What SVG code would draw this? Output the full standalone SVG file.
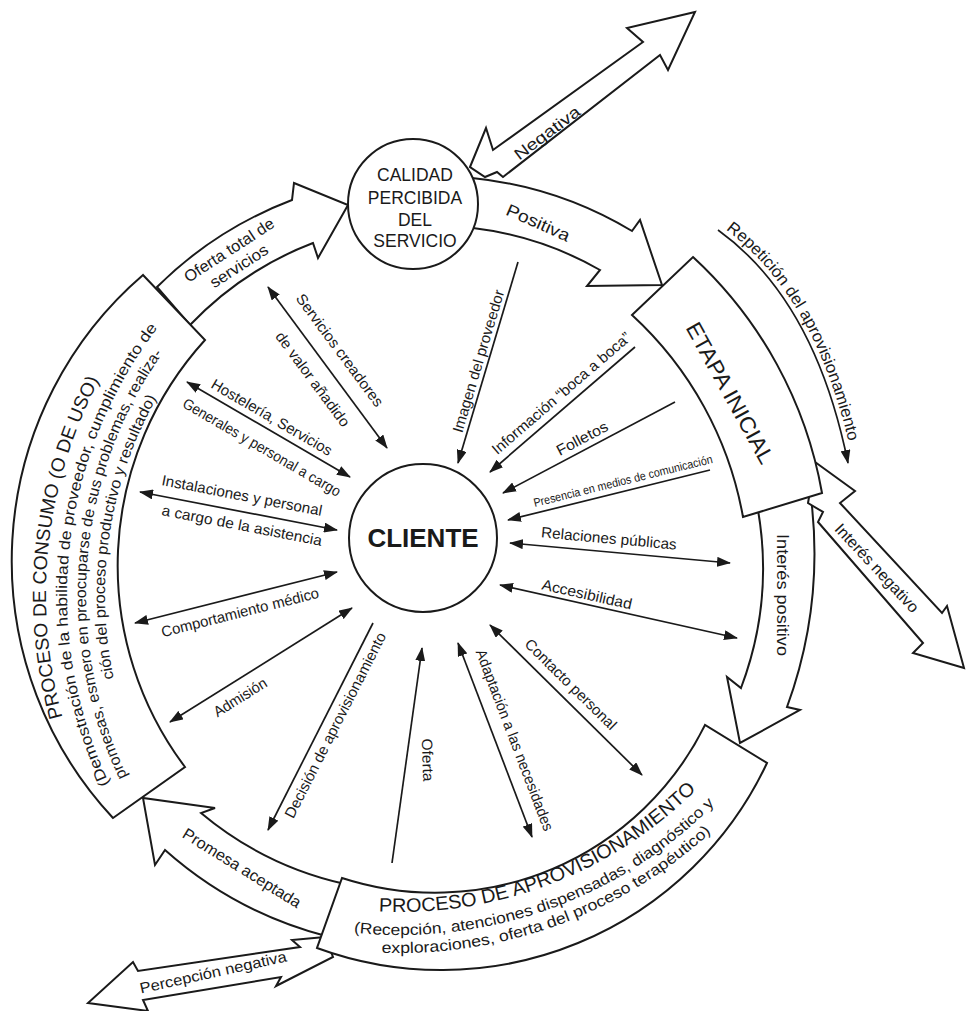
<svg xmlns="http://www.w3.org/2000/svg" width="966" height="1011" viewBox="0 0 966 1011">
<defs>
<style>
.blk{fill:#fff;stroke:#1a1a1a;stroke-width:2;stroke-linejoin:miter}
.sp{stroke:#1a1a1a;stroke-width:1.7;fill:none}
text{font-family:"Liberation Sans",Arial,Helvetica,sans-serif;fill:#1a1a1a}
.c{text-anchor:middle;dominant-baseline:central}
.f12{font-size:12px}
.f15{font-size:15px}
.f16{font-size:16px}
.f17{font-size:17px}
</style>
<marker id="ah" viewBox="0 0 14 10" refX="13" refY="5" markerWidth="14" markerHeight="10" markerUnits="userSpaceOnUse" orient="auto-start-reverse"><path d="M0,0 L14,5 L0,10 Z" fill="#1a1a1a"/></marker>
<path id="pc1" d="M107.6,825 A460,460 0 0 1 164.2,287.2"/>
<path id="pc2" d="M125.8,814.5 A439,439 0 0 1 179.8,301.3"/>
<path id="pc3" d="M142.3,805 A420,420 0 0 1 193.9,314.0"/>
<path id="pc4" d="M158.7,795.5 A401,401 0 0 1 208,326.7"/>
<path id="pa1" d="M327.1,905.6 A420,420 0 0 0 739.8,738.9"/>
<path id="pa2" d="M323.1,928.3 A443,443 0 0 0 758.4,752.4"/>
<path id="pa3" d="M320,946 A461,461 0 0 0 772.9,763"/>
<path id="prep" d="M721,226 Q819,296 853,462"/>
</defs>
<rect width="966" height="1011" fill="#fff"/>

<g id="connectors">
  <!-- big ring arrows -->
  <path class="blk" d="M470,167 L486,128 L493,150 L643,42 L627,28 L695,12 L668,70 L660,55 L503,177 L497,172 L485,177 Z"/>
  <path class="blk" d="M472,178 A386,386 0 0 1 632,231 L640,220 L662,285 L587,286 L600,270 A336,336 0 0 0 473,228 Z"/>
  <path class="blk" d="M157,287 A386,386 0 0 1 292,200 L294,183 L348,205 L318,258 L313,243 A336,336 0 0 0 190,325 Z"/>
  <path class="blk" d="M758,510 A340,340 0 0 1 741,688 L727,677 L740,743 L800,710 L787,707 A450,450 0 0 0 810,490 Z"/>
  <path class="blk" d="M815,462 L855,491 L840,503 L942,613 L947,606 L964,668 L913,653 L923,643 L818,522 L823,512 L808,503 Z"/>
  <path class="blk" d="M345,884 A338,338 0 0 1 201,813 L215,808 L143,798 L155,865 L165,850 A390,390 0 0 0 326,936 Z"/>
  <path class="blk" d="M325,937 L292,940 L300,947 L138,971 L133,962 L88,1003 L148,1011 L143,1000 L281,977 L276,986 L333,957 Z"/>
  <path class="sp" stroke-width="2" d="M718,230 Q815,300 848,463" marker-end="url(#ah)"/>

  <!-- big arrow labels -->
  <text class="c f16" transform="translate(547,133) rotate(-37)" textLength="78" lengthAdjust="spacingAndGlyphs">Negativa</text>
  <text class="c f17" transform="translate(538,223) rotate(24)" textLength="68" lengthAdjust="spacingAndGlyphs">Positiva</text>
  <text class="c f16" transform="translate(229,250) rotate(-33)" textLength="104" lengthAdjust="spacingAndGlyphs">Oferta total de</text>
  <text class="c f16" transform="translate(239,266) rotate(-33)" textLength="66" lengthAdjust="spacingAndGlyphs">servicios</text>
  <text class="c f17" transform="translate(782,595) rotate(90)" textLength="122" lengthAdjust="spacingAndGlyphs">Interés positivo</text>
  <text class="c f16" transform="translate(877,568) rotate(47)" textLength="115" lengthAdjust="spacingAndGlyphs">Interés negativo</text>
  <text class="c f16" transform="translate(242,868) rotate(31.8)" textLength="136" lengthAdjust="spacingAndGlyphs">Promesa aceptada</text>
  <text class="c f15" transform="translate(213,972) rotate(-12.5)" textLength="150" lengthAdjust="spacingAndGlyphs">Percepción negativa</text>
  <text font-size="16.5"><textPath href="#prep" startOffset="6" textLength="250" lengthAdjust="spacingAndGlyphs">Repetición del aprovisionamiento</textPath></text>

  <!-- spokes -->
  <line class="sp" x1="268" y1="287" x2="387" y2="448" marker-start="url(#ah)" marker-end="url(#ah)"/>
  <line class="sp" x1="518" y1="262" x2="458" y2="463" marker-end="url(#ah)"/>
  <line class="sp" x1="635" y1="347" x2="490" y2="472" marker-end="url(#ah)"/>
  <line class="sp" x1="675" y1="402" x2="503" y2="493" marker-end="url(#ah)"/>
  <line class="sp" x1="710" y1="470" x2="508" y2="520" marker-end="url(#ah)"/>
  <line class="sp" x1="510" y1="543" x2="730" y2="563" marker-start="url(#ah)" marker-end="url(#ah)"/>
  <line class="sp" x1="500" y1="585" x2="737" y2="638" marker-start="url(#ah)" marker-end="url(#ah)"/>
  <line class="sp" x1="490" y1="625" x2="642" y2="775" marker-start="url(#ah)" marker-end="url(#ah)"/>
  <line class="sp" x1="458" y1="643" x2="532" y2="837" marker-start="url(#ah)" marker-end="url(#ah)"/>
  <line class="sp" x1="392" y1="863" x2="422" y2="648" marker-end="url(#ah)"/>
  <line class="sp" x1="373" y1="623" x2="268" y2="830" marker-end="url(#ah)"/>
  <line class="sp" x1="170" y1="722" x2="352" y2="608" marker-start="url(#ah)" marker-end="url(#ah)"/>
  <line class="sp" x1="135" y1="623" x2="337" y2="572" marker-start="url(#ah)" marker-end="url(#ah)"/>
  <line class="sp" x1="140" y1="492" x2="337" y2="530" marker-start="url(#ah)" marker-end="url(#ah)"/>
  <line class="sp" x1="187" y1="382" x2="350" y2="477" marker-start="url(#ah)" marker-end="url(#ah)"/>

  <!-- spoke labels -->
  <text class="c f15" transform="translate(340,350) rotate(53.5)" textLength="136" lengthAdjust="spacingAndGlyphs">Servicios creadores</text>
  <text class="c f15" transform="translate(313,379) rotate(53.5)" textLength="114" lengthAdjust="spacingAndGlyphs">de valor añadido</text>
  <text class="c f15" transform="translate(478,361) rotate(-73.4)" textLength="148" lengthAdjust="spacingAndGlyphs">Imagen del proveedor</text>
  <text class="c f15" transform="translate(561,393) rotate(-40.8)" textLength="178" lengthAdjust="spacingAndGlyphs">Información “boca a boca”</text>
  <text class="c f15" transform="translate(582,438) rotate(-27.9)" textLength="56" lengthAdjust="spacingAndGlyphs">Folletos</text>
  <text class="c f12" transform="translate(623,481) rotate(-13.9)" textLength="184" lengthAdjust="spacingAndGlyphs">Presencia en medios de comunicación</text>
  <text class="c f15" transform="translate(609,538) rotate(5.2)" textLength="136" lengthAdjust="spacingAndGlyphs">Relaciones públicas</text>
  <text class="c f15" transform="translate(587,594) rotate(12.6)" textLength="92" lengthAdjust="spacingAndGlyphs">Accesibilidad</text>
  <text class="c f15" transform="translate(571,684) rotate(44.6)" textLength="122" lengthAdjust="spacingAndGlyphs">Contacto personal</text>
  <text class="c f15" transform="translate(515,740) rotate(69.1)" textLength="193" lengthAdjust="spacingAndGlyphs">Adaptación a las necesidades</text>
  <text class="c f15" transform="translate(428,760) rotate(88)" textLength="43" lengthAdjust="spacingAndGlyphs">Oferta</text>
  <text class="c f15" transform="translate(335,725) rotate(-63.1)" textLength="206" lengthAdjust="spacingAndGlyphs">Decisión de aprovisionamiento</text>
  <text class="c f15" transform="translate(240,697) rotate(-32)" textLength="60" lengthAdjust="spacingAndGlyphs">Admisión</text>
  <text class="c f15" transform="translate(240,612) rotate(-14.2)" textLength="162" lengthAdjust="spacingAndGlyphs">Comportamiento médico</text>
  <text class="c f15" transform="translate(242,495) rotate(10.9)" textLength="163" lengthAdjust="spacingAndGlyphs">Instalaciones y personal</text>
  <text class="c f15" transform="translate(242,525) rotate(10.9)" textLength="163" lengthAdjust="spacingAndGlyphs">a cargo de la asistencia</text>
  <text class="c f15" transform="translate(272,417) rotate(30.2)" textLength="137" lengthAdjust="spacingAndGlyphs">Hostelería, Servicios</text>
  <text class="c f15" transform="translate(262,447) rotate(30.2)" textLength="180" lengthAdjust="spacingAndGlyphs">Generales y personal a cargo</text>
</g>

<g id="calidad">
  <circle class="blk" cx="413" cy="204" r="65"/>
  <text font-size="17.5" text-anchor="middle" x="415" y="181">CALIDAD</text>
  <text font-size="17.5" text-anchor="middle" x="415" y="204">PERCIBIDA</text>
  <text font-size="17.5" text-anchor="middle" x="415" y="226">DEL</text>
  <text font-size="17.5" text-anchor="middle" x="415" y="247">SERVICIO</text>
</g>

<g id="cliente">
  <circle class="blk" cx="423" cy="538" r="74"/>
  <text font-size="26" font-weight="bold" text-anchor="middle" x="423" y="547">CLIENTE</text>
</g>

<g id="etapa">
  <path class="blk" d="M632,315 L693,257 A420,420 0 0 1 822,493 L743,517 A360,360 0 0 0 632,315 Z"/>
  <text class="c" font-size="22" transform="translate(730,393) rotate(61)" textLength="158" lengthAdjust="spacingAndGlyphs">ETAPA INICIAL</text>
</g>

<g id="aprovisionamiento">
  <path class="blk" d="M342,878 A301,301 0 0 0 705,725 L767,763 A360,360 0 0 1 317,948 Z"/>
  <text font-size="19.5"><textPath href="#pa1" startOffset="48.4%" text-anchor="middle" textLength="350" lengthAdjust="spacingAndGlyphs">PROCESO DE  APROVISIONAMIENTO</textPath></text>
  <text font-size="15.5"><textPath href="#pa2" startOffset="46.3%" text-anchor="middle" textLength="396" lengthAdjust="spacingAndGlyphs">(Recepción, atenciones dispensadas, diagnóstico y</textPath></text>
  <text font-size="15.5"><textPath href="#pa3" startOffset="47%" text-anchor="middle" textLength="360" lengthAdjust="spacingAndGlyphs">exploraciones, oferta del proceso terapéutico)</textPath></text>
</g>

<g id="consumo">
  <path class="blk" d="M143,275 L205,340 A335,335 0 0 0 185,767 L113,818 A377,377 0 0 1 143,275 Z"/>
  <text font-size="19"><textPath href="#pc1" startOffset="50.3%" text-anchor="middle" textLength="347" lengthAdjust="spacingAndGlyphs">PROCESO DE CONSUMO (O DE USO)</textPath></text>
  <text font-size="15.5"><textPath href="#pc2" startOffset="50%" text-anchor="middle" textLength="482" lengthAdjust="spacingAndGlyphs">(Demostración de la habilidad de proveedor, cumplimiento de</textPath></text>
  <text font-size="15.5"><textPath href="#pc3" startOffset="48.3%" text-anchor="middle" textLength="445" lengthAdjust="spacingAndGlyphs">promesas, esmero en preocuparse de sus problemas, realiza-</textPath></text>
  <text font-size="15.5"><textPath href="#pc4" startOffset="53.75%" text-anchor="middle" textLength="290" lengthAdjust="spacingAndGlyphs">ción del proceso productivo y resultado)</textPath></text>
</g>
</svg>
